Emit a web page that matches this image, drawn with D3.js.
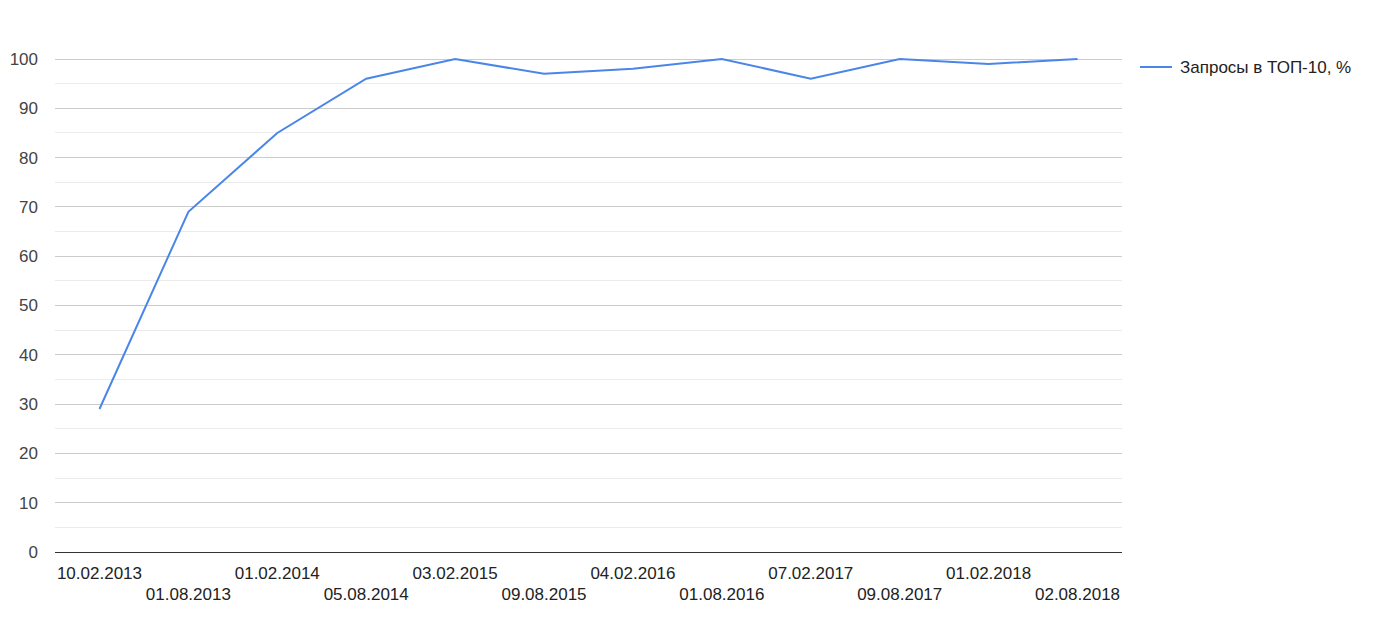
<!DOCTYPE html>
<html><head><meta charset="utf-8">
<script src="https://cdn.jsdelivr.net/npm/d3@7"></script>
<style>body{margin:0;background:#fff}svg{display:block}text{font-family:"Liberation Sans",Arial,sans-serif}</style>
</head><body><svg id="c" width="1374" height="634"></svg>
<script>
const categories = ["10.02.2013","01.08.2013","01.02.2014","05.08.2014","03.02.2015","09.08.2015","04.02.2016","01.08.2016","07.02.2017","09.08.2017","01.02.2018","02.08.2018"];
const values = [29,69,85,96,100,97,98,100,96,100,99,100];
const seriesName = "Запросы в ТОП-10, %";
const yTicks = [0,10,20,30,40,50,60,70,80,90,100];
const yMinor = [5,15,25,35,45,55,65,75,85,95];

const svg = d3.select("#c");
const L=55, R=1122, T=59, B=552;
const x = d3.scaleBand().domain(categories).range([L,R]);
const y = d3.scaleLinear().domain([0,100]).range([B,T]);

svg.append("g").selectAll("line").data(yMinor).join("line")
  .attr("x1",L).attr("x2",R).attr("y1",d=>y(d)).attr("y2",d=>y(d))
  .attr("stroke","#ebebeb").attr("stroke-width",1).attr("shape-rendering","crispEdges");
svg.append("g").selectAll("line").data(yTicks.filter(d=>d>0)).join("line")
  .attr("x1",L).attr("x2",R).attr("y1",d=>y(d)).attr("y2",d=>y(d))
  .attr("stroke","#cccccc").attr("stroke-width",1).attr("shape-rendering","crispEdges");
svg.append("line").attr("x1",L).attr("x2",R).attr("y1",y(0)).attr("y2",y(0))
  .attr("stroke","#333").attr("stroke-width",1).attr("shape-rendering","crispEdges");

svg.append("g").selectAll("text").data(yTicks).join("text")
  .attr("x",38).attr("y",d=>y(d)).attr("dy","0.35em").attr("text-anchor","end")
  .attr("font-size",17).attr("fill","#444").text(d=>d);

svg.append("g").selectAll("text").data(categories).join("text")
  .attr("x",d=>x(d)+x.bandwidth()/2).attr("y",(d,i)=>i%2===0?579:600)
  .attr("text-anchor","middle").attr("font-size",17).attr("fill","#222").text(d=>d);

const line = d3.line().x((d,i)=>x(categories[i])+x.bandwidth()/2).y(d=>y(d));
svg.append("path").datum(values).attr("d",line).attr("fill","none")
  .attr("stroke","#4a86e8").attr("stroke-width",2);

const lg = svg.append("g");
lg.append("line").attr("x1",1140).attr("x2",1172).attr("y1",67).attr("y2",67)
  .attr("stroke","#4a86e8").attr("stroke-width",2);
lg.append("text").attr("x",1180).attr("y",67).attr("dy","0.35em")
  .attr("font-size",17).attr("fill","#222").text(seriesName);
</script></body></html>
